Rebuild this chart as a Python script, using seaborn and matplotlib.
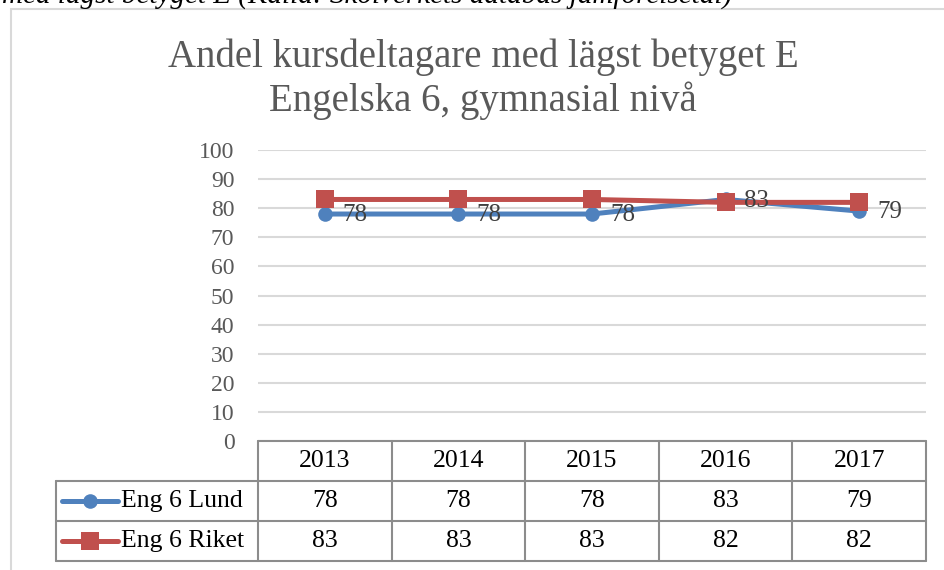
import matplotlib
matplotlib.use("Agg")
import matplotlib.pyplot as plt
from matplotlib.patches import Rectangle
import numpy as np
import pandas as pd
import seaborn as sns

YEARS = ["2013", "2014", "2015", "2016", "2017"]
SERIES = ["Eng 6 Lund", "Eng 6 Riket"]
LUND = [78, 78, 78, 83, 79]
RIKET = [83, 83, 83, 82, 82]
Y_TICKS = list(range(0, 101, 10))
TITLE = "Andel kursdeltagare med lägst betyget E\nEngelska 6, gymnasial nivå"
CAPTION = "med lägst betyget E (Källa: Skolverkets databas jämförelsetal)"

COLORS = {"Eng 6 Lund": "#4F81BD", "Eng 6 Riket": "#C0504D"}
MARKERS = {"Eng 6 Lund": "o", "Eng 6 Riket": "s"}
MSIZE = {"Eng 6 Lund": 10.5, "Eng 6 Riket": 13.5}
GREY_TEXT = "#595959"
GRID = "#D9D9D9"
TABLE_LINE = "#8C8C8C"

sns.set_theme(style="white")
plt.rcParams["font.family"] = ["Liberation Serif", "DejaVu Serif"]

df = pd.DataFrame({
    "pos": list(range(len(YEARS))) * 2,
    "value": LUND + RIKET,
    "series": [SERIES[0]] * len(YEARS) + [SERIES[1]] * len(YEARS),
})

W, H = 944, 570
fig = plt.figure(figsize=(W / 100, H / 100), dpi=100)
ax = fig.add_axes([258 / W, (H - 441) / H, 668 / W, 291 / H])

for name in SERIES:
    sub = df[df["series"] == name]
    sns.lineplot(data=sub, x="pos", y="value", color=COLORS[name], marker=MARKERS[name],
                 markersize=MSIZE[name], markeredgewidth=0, linewidth=3.6, ax=ax,
                 legend=False, clip_on=False, zorder=3)

# data labels for Lund
for i, v in enumerate(LUND):
    ax.annotate(str(v), (i, v), xytext=(13, -1), textcoords="offset points",
                ha="left", va="center", fontsize=18, color="#404040", zorder=5)

ax.set_xlim(-0.5, len(YEARS) - 0.5)
ax.set_ylim(0, 100)
ax.set_yticks(Y_TICKS)
ax.set_yticklabels([str(t) for t in Y_TICKS], fontsize=17, color=GREY_TEXT)
ax.tick_params(axis="y", length=0, pad=17)
ax.set_xticks([])
ax.set_xlabel("")
ax.set_ylabel("")
ax.yaxis.grid(True, color=GRID, linewidth=1.5)
ax.set_axisbelow(True)
for s in ax.spines.values():
    s.set_visible(False)

# data table under the plot
n = len(YEARS)
rh = 40 / 291
label_left = (56 - 258) / 668
kw = dict(transform=ax.transAxes, clip_on=False, color=TABLE_LINE, linewidth=1.5)
ax.plot([0, 1], [0, 0], **kw)
ax.plot([label_left, 1], [-rh, -rh], **kw)
ax.plot([label_left, 1], [-2 * rh, -2 * rh], **kw)
ax.plot([label_left, 1], [-3 * rh, -3 * rh], **kw)
ax.plot([label_left, label_left], [-rh, -3 * rh], **kw)
for i in range(n + 1):
    ax.plot([i / n, i / n], [0, -3 * rh], **kw)

for i, y in enumerate(YEARS):
    ax.text((i + 0.5) / n, -0.5 * rh, y, transform=ax.transAxes, ha="center", va="center",
            fontsize=18.5, color="black")
for r, (name, vals) in enumerate(zip(SERIES, [LUND, RIKET])):
    yc = -(r + 1.5) * rh
    for i, v in enumerate(vals):
        ax.text((i + 0.5) / n, yc, str(v), transform=ax.transAxes, ha="center", va="center",
                fontsize=18.5, color="black")
    x0, x1 = (62 - 258) / 668, (118 - 258) / 668
    ax.plot([x0, x1], [yc, yc], transform=ax.transAxes, clip_on=False,
            color=COLORS[name], linewidth=3.6)
    ax.plot([(x0 + x1) / 2], [yc], transform=ax.transAxes, clip_on=False,
            color=COLORS[name], marker=MARKERS[name], markersize=MSIZE[name], markeredgewidth=0)
    ax.text((121 - 258) / 668, yc, name, transform=ax.transAxes, ha="left", va="center",
            fontsize=18.5, color="black")

# chart frame and title
fig.add_artist(Rectangle((11 / W, -0.1), 1.2, 1.1 - 9 / H, transform=fig.transFigure,
                         fill=False, edgecolor=GRID, linewidth=1.5))
fig.text(483 / W, 1 - 79 / H, TITLE, ha="center", va="center", fontsize=28,
         color=GREY_TEXT, linespacing=1.2)
fig.text(2 / W, 1 - 4 / H, CAPTION, ha="left", va="baseline", fontsize=21,
         style="italic", color="black")

fig.savefig("out.png", dpi=100)
